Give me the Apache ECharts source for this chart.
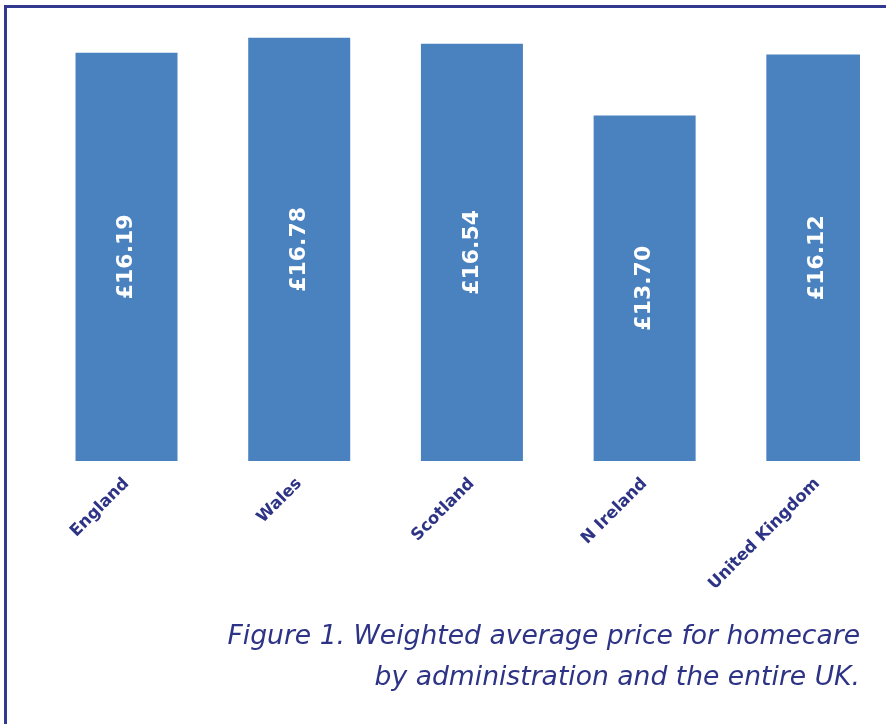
<!DOCTYPE html>
<html>
<head>
<meta charset="utf-8">
<script src="https://cdn.jsdelivr.net/npm/echarts@6/dist/echarts.min.js"></script>
<style>
html,body{margin:0;padding:0;background:#fff;}
#wrap{position:relative;width:886px;height:724px;overflow:hidden;background:#fff;}
#c{position:absolute;left:0;top:0;width:860px;height:724px;}
.frame{position:absolute;background:#333990;}
</style>
</head>
<body>
<div id="wrap">
  <div id="c"></div>
  <div class="frame" style="left:4px;top:4.5px;width:882px;height:3px;"></div>
  <div class="frame" style="left:4px;top:4.5px;width:3px;height:720px;"></div>
</div>
<script>
const categories = ['England', 'Wales', 'Scotland', 'N Ireland', 'United Kingdom'];
const prices = [16.19, 16.78, 16.54, 13.70, 16.12];
const captionLines = ['Figure 1. Weighted average price for homecare', 'by administration and the entire UK.'];

const navy = '#2E3485';
const chart = echarts.init(document.getElementById('c'), null, {renderer: 'canvas'});
chart.setOption({
  backgroundColor: '#ffffff',
  animation: false,
  grid: {left: 40.15, right: 0, top: 7, bottom: 263, containLabel: false},
  xAxis: {
    type: 'value', min: -0.5, max: 4.247,
    splitLine: {show: false}, axisLine: {show: false}, axisTick: {show: false},
    axisLabel: {
      customValues: categories.map((c, i) => i),
      rotate: 45, margin: 20, color: navy, fontFamily: 'DejaVu Sans', fontWeight: 'bold', fontSize: 16.5,
      formatter: v => categories[Math.round(v)] || ''
    }
  },
  yAxis: {type: 'value', min: 0, max: 18, show: false},
  series: [{
    type: 'bar',
    barWidth: 102,
    data: prices.map((p, i) => [i, p]),
    itemStyle: {color: '#4A82C0'},
    label: {
      show: true, position: 'inside', rotate: 90, color: '#ffffff',
      fontFamily: 'DejaVu Sans', fontWeight: 'bold', fontSize: 22,
      formatter: p => '£' + p.value[1].toFixed(2)
    }
  }],
  graphic: [
    {type: 'text', right: 0, top: 624, style: {
      text: captionLines[0], fill: navy, font: 'italic 26.6px "DejaVu Sans"'
    }},
    {type: 'text', right: 0, top: 665, style: {
      text: captionLines[1], fill: navy, font: 'italic 26.6px "DejaVu Sans"'
    }}
  ]
});
</script>
</body>
</html>
